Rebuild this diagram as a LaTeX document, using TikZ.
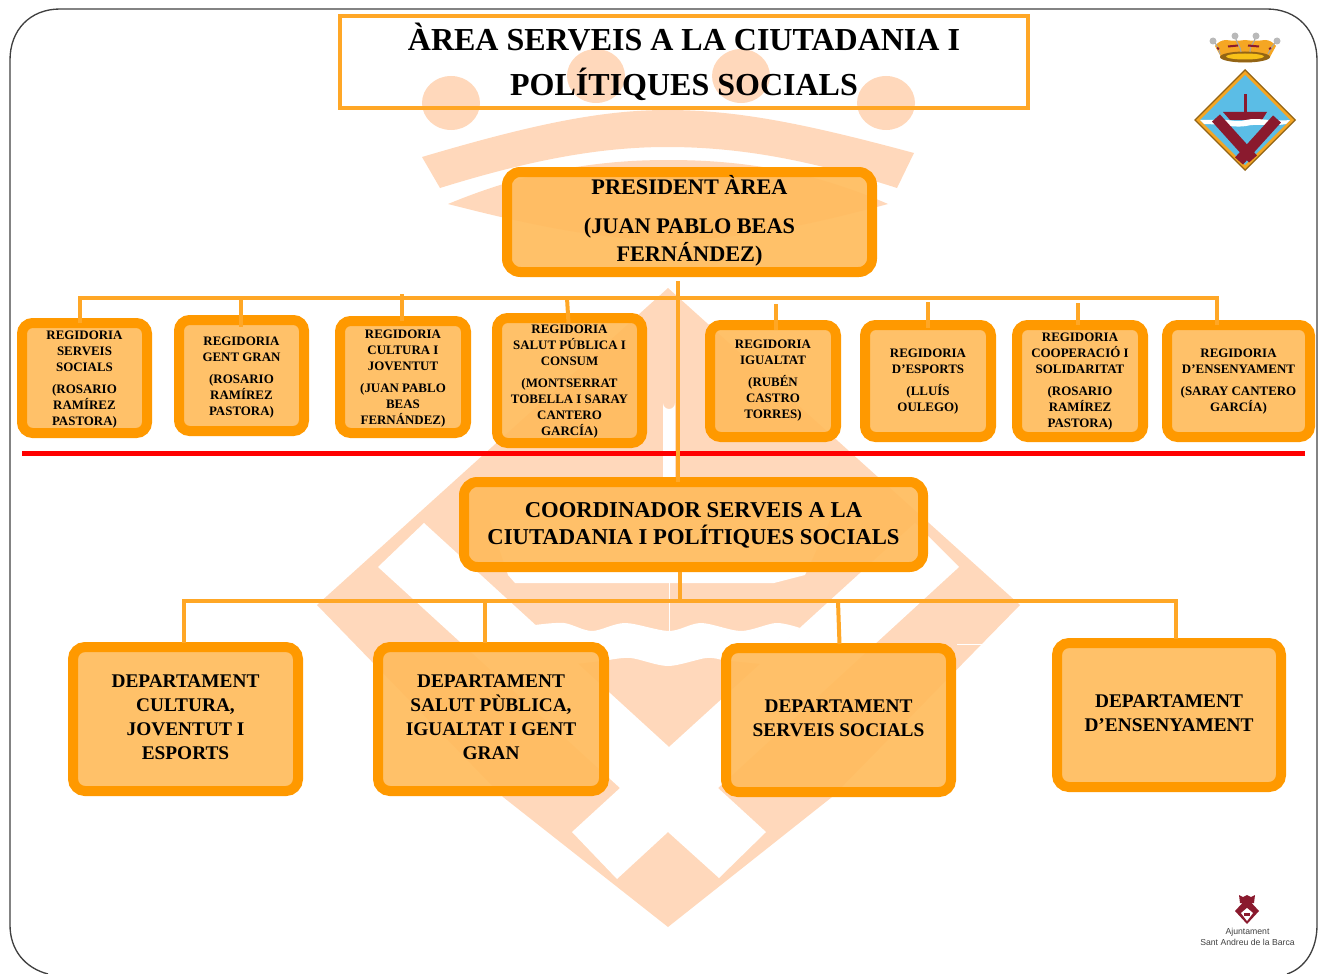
\documentclass[tikz,border=0pt]{standalone}
\usepackage{fontspec}
\setmainfont{Liberation Serif}
\usetikzlibrary{calc}
\definecolor{boxor}{HTML}{FF9900}
\definecolor{boxfl}{HTML}{FFBC5E}
\definecolor{linor}{HTML}{FFA726}
\definecolor{wmark}{HTML}{FFD8BB}
\definecolor{frameg}{HTML}{404040}
\definecolor{crest}{HTML}{8A1A2E}
\definecolor{crestb}{HTML}{5BBDE6}
\definecolor{gold}{HTML}{F5A623}
\newcommand\upstrut[1]{\rule{0pt}{#1pt}}
\newcommand\dnstrut{\rule[-3pt]{0pt}{3pt}}
\tikzset{
  boxsize/.style 2 args={minimum width={(#1-10)*0.75pt},minimum height={(#2-10)*0.75pt}},
  orbox/.style={draw=boxor,line width=7.5pt,fill=boxfl,fill opacity=.93,text opacity=1,align=center,inner sep=0pt,outer sep=0pt,font=\bfseries},
  regbox/.style={orbox,rounded corners=8pt,font=\bfseries\fontsize{9.7}{12}\selectfont},
  depbox/.style={orbox,rounded corners=9pt,font=\bfseries\fontsize{14.5}{18}\selectfont},
  conn/.style={draw=linor,line width=3pt},
  wfill/.style={fill=white,draw=none}
}
\begin{document}
\begin{tikzpicture}[x=0.75pt,y=-0.75pt]
\useasboundingbox (0,0) rectangle (1325,974);
\clip (0,0) rectangle (1325,974);
% watermark
\fill[wmark] (668,288)--(1020,605)--(832,797)--(668,927)--(503,797)--(317,605)--cycle;
\fill[wfill] (669,747)--(424,523)--(378,567)--(620,788)--(572,832)--(617,879)--(668,832)--(719,878)--(766,832)--(718,788)--(959,567)--(915,523)--cycle;
\fill[wfill] (663,480)--(663,403) arc[start angle=180,end angle=0,radius=6]--(675,480)--cycle;
\fill[wfill] (490,520)--(830,520)--(805,575)--(774,583)--(515,583)--(508,575)--cycle;
\fill[wfill] plot[smooth] coordinates {(535,625)(564,623)(592,631)(625,623)(669,631)(701,623)(741,631)(776,623)(800,628)} -- (762,664) -- plot[smooth] coordinates {(722,660)(706,658)(668,666)(631,658)(609,660)} -- (575,664) -- cycle;
\draw[white,line width=.5pt] (669,583)--(669,631);
\draw[white,line width=.6pt] (957,644)--(985,644);
\fill[wmark] (451,103) ellipse[x radius=29,y radius=27];
\fill[wmark] (886,103) ellipse[x radius=29,y radius=27];
\fill[wmark] (596,76) ellipse[x radius=29,y radius=27];
\fill[wmark] (741,76) ellipse[x radius=29,y radius=27];
\fill[wmark] (422,157) .. controls (530,125) and (600,110) .. (667,110) .. controls (740,110) and (810,125) .. (914,153) -- (897,188) .. controls (810,160) and (740,147) .. (667,147) .. controls (600,147) and (530,160) .. (440,188) -- cycle;
\fill[wmark] (448,204) .. controls (530,170) and (600,160) .. (668,160) .. controls (740,160) and (810,170) .. (888,204) .. controls (810,225) and (740,240) .. (668,240) .. controls (600,240) and (530,225) .. (448,204) -- cycle;
% frame
\draw[frameg,line width=1pt] (48,974) .. controls (25,968) and (10,950) .. (10,925) -- (10,60) .. controls (10,30) and (30,9) .. (60,9) -- (1267,9) .. controls (1297,9) and (1317,30) .. (1317,60) -- (1317,925) .. controls (1317,950) and (1305,968) .. (1287,974);
% rule
\draw[red,line width=3.75pt] (22,453)--(1305,453);
% title
\node[draw=linor,line width=2.8pt,minimum width=515.5pt,minimum height=68.5pt,inner sep=0pt,outer sep=0pt,align=center,font=\bfseries\fontsize{24}{33.4}\selectfont] (title) at (684,62) {ÀREA SERVEIS A LA CIUTADANIA I\\POLÍTIQUES SOCIALS\rule[-2pt]{0pt}{2pt}};
% main boxes
\node[depbox,rounded corners=10pt,font=\bfseries\fontsize{16.7}{21}\selectfont,boxsize={375}{110}] (pres) at (689.5,222) {PRESIDENT ÀREA\\[8pt](JUAN PABLO BEAS\\FERNÁNDEZ)\rule[-5.5pt]{0pt}{5.5pt}};
\node[depbox,rounded corners=10pt,font=\bfseries\fontsize{17}{20.25}\selectfont,boxsize={469}{95}] (coord) at (693.5,524.5) {\upstrut{12.5}COORDINADOR SERVEIS A LA\\CIUTADANIA I POLÍTIQUES SOCIALS};
\node[regbox,boxsize={135}{120}] (r1) at (84.5,378) {\upstrut{9}REGIDORIA\\SERVEIS\\SOCIALS\\[4.5pt](ROSARIO\\RAMÍREZ\\PASTORA)};
\node[regbox,boxsize={135}{121}] (r2) at (241.5,375.5) {\upstrut{9.5}REGIDORIA\\GENT GRAN\\[4.5pt](ROSARIO\\RAMÍREZ\\PASTORA)};
\node[regbox,boxsize={136}{122}] (r3) at (403,377) {\upstrut{9.5}REGIDORIA\\CULTURA I\\JOVENTUT\\[4.5pt](JUAN PABLO\\BEAS\\FERNÁNDEZ)};
\node[regbox,boxsize={155}{135}] (r4) at (569.5,380.5) {\upstrut{8}REGIDORIA\\SALUT PÚBLICA I\\CONSUM\\[4.5pt](MONTSERRAT\\TOBELLA I SARAY\\CANTERO\\GARCÍA)};
\node[regbox,boxsize={136}{122}] (r5) at (773,381) {REGIDORIA\\IGUALTAT\\[4.5pt](RUBÉN\\CASTRO\\TORRES)};
\node[regbox,boxsize={136}{122}] (r6) at (928,381) {\upstrut{8}REGIDORIA\\D’ESPORTS\\[4.5pt](LLUÍS\\OULEGO)};
\node[regbox,boxsize={136}{122}] (r7) at (1080,381) {\upstrut{8}REGIDORIA\\COOPERACIÓ I\\SOLIDARITAT\\[4.5pt](ROSARIO\\RAMÍREZ\\PASTORA)};
\node[regbox,boxsize={153}{122}] (r8) at (1238.5,381) {\upstrut{8}REGIDORIA\\D’ENSENYAMENT\\[4.5pt](SARAY CANTERO\\GARCÍA)};
\node[depbox,boxsize={235}{154}] (d1) at (185.5,719) {DEPARTAMENT\\CULTURA,\\JOVENTUT I\\ESPORTS\dnstrut};
\node[depbox,boxsize={236}{154}] (d2) at (491,719) {DEPARTAMENT\\SALUT PÙBLICA,\\IGUALTAT I GENT\\GRAN\dnstrut};
\node[depbox,boxsize={235}{154}] (d3) at (838.5,720) {DEPARTAMENT\\SERVEIS SOCIALS\dnstrut};
\node[depbox,boxsize={234}{154}] (d4) at (1169,715) {DEPARTAMENT\\D’ENSENYAMENT\dnstrut};
% connectors
\coordinate (upL) at (80,298);
\coordinate (upR) at (1217,298);
\coordinate (u2) at (241,298);
\coordinate (u3) at (402,294);
\coordinate (u4) at (567,298);
\coordinate (u5) at (776,304);
\coordinate (u6) at (928,302);
\coordinate (u7) at (1078,303);
\coordinate (lowL) at (184,601);
\coordinate (lowR) at (1176,601);
\coordinate (l2) at (485,601);
\coordinate (l3) at (838,601);
\coordinate (tr1) at (678,281);
\coordinate (tr2) at (680,601);
\draw[conn] (upL |- r1.north) -- (upL) -- (upR) -- (upR |- r8.north);
\draw[conn] (u2) -- ($(u2 |- r2.north)+(0,7)$);
\draw[conn] (u3) -- (u3 |- r3.north);
\draw[conn] (u4) -- ($(u4 |- r4.north)+(1.5,5)$);
\draw[conn] (u5) -- ($(u5 |- r5.north)+(0,5)$);
\draw[conn] (u6) -- ($(u6 |- r6.north)+(0,3)$);
\draw[conn] (u7) -- (u7 |- r7.north);
\draw[conn] (tr1) -- (tr1 |- coord.north);
\draw[conn] ($(tr2 |- coord.south)+(0,5)$) -- (tr2);
\draw[conn] ($(lowL |- d1.north)+(0,-4)$) -- (lowL) -- (lowR) -- ($(lowR |- d4.north)+(0,-4)$);
\draw[conn] (l2) -- ($(l2 |- d2.north)+(0,-4)$);
\draw[conn] (l3) -- ($(l3 |- d3.north)+(1.5,-4)$);
% large crest: crown
\fill[gold] (1215,46) .. controls (1218,42) and (1222,40) .. (1226,40) .. controls (1233,41) and (1238,41) .. (1245,40) .. controls (1252,41) and (1258,41) .. (1265,40) .. controls (1269,40) and (1273,42) .. (1276,46) -- (1270,57) .. controls (1262,64) and (1228,64) .. (1221,57) -- cycle;
\fill[black!40!gold] (1245,57) ellipse[x radius=25,y radius=5.5];
\fill[gold!70!yellow] (1245,56.5) ellipse[x radius=19,y radius=3];
\draw[gray!70,line width=.8pt] (1213,41) .. controls (1217,44) and (1219,50) .. (1220,54) (1235,36) .. controls (1236,42) and (1241,47) .. (1241,52) (1256,36) .. controls (1255,42) and (1249,47) .. (1250,52) (1277,41) .. controls (1273,44) and (1270,50) .. (1268,54);
\foreach \px/\py in {1213/41,1235/36,1256/36,1277/41}{\fill[gray!55] (\px,\py) circle[radius=3.5];}
\draw[crest,line width=1.5pt] (1217,48)--(1219,49) (1228,46.5)--(1238,45.5) (1248,45.5)--(1259,46.5) (1269,49)--(1271,48);
% large crest: shield
\fill[black!40!gold] (1245,69)--(1296,120)--(1245,171)--(1194,120)--cycle;
\fill[gold] (1245,71)--(1294,120)--(1245,169)--(1196,120)--cycle;
\fill[crestb] (1245,75)--(1290,120)--(1245,165)--(1200,120)--cycle;
\fill[crest] (1244,94) rectangle (1247,113);
\fill[crest] (1223,112)--(1267,112)--(1262,120)--(1230,120)--cycle;
\fill[white] (1200,120) -- (1215,120) .. controls (1225,118) and (1235,123) .. (1246,120) .. controls (1258,117) and (1270,122) .. (1290,120) -- (1286,124) .. controls (1270,127) and (1258,123) .. (1246,126) .. controls (1235,128) and (1220,124) .. (1204,124) -- cycle;
\draw[crest,line width=8pt] (1216,118)--(1253,159);
\draw[crest,line width=8pt] (1277,119)--(1239,161);
% small crest
\fill[crest] (1239,895)--(1243,897)--(1247,895)--(1251,897)--(1255,895)--(1254,903)--(1240,903)--cycle;
\fill[crest] (1247,898)--(1259,911)--(1247,924)--(1235,911)--cycle;
\fill[white] (1247,908)--(1253,913)--(1247,921)--(1241,913)--cycle;
\fill[crest] (1244,913) rectangle (1250,916);
\node[text=frameg,inner sep=0pt,align=center,font=\fontspec{Liberation Sans}\fontsize{6.5}{8.2}\selectfont] (ajt) at (1247.5,936.5) {Ajuntament\\Sant Andreu de la Barca};
\end{tikzpicture}
\end{document}
